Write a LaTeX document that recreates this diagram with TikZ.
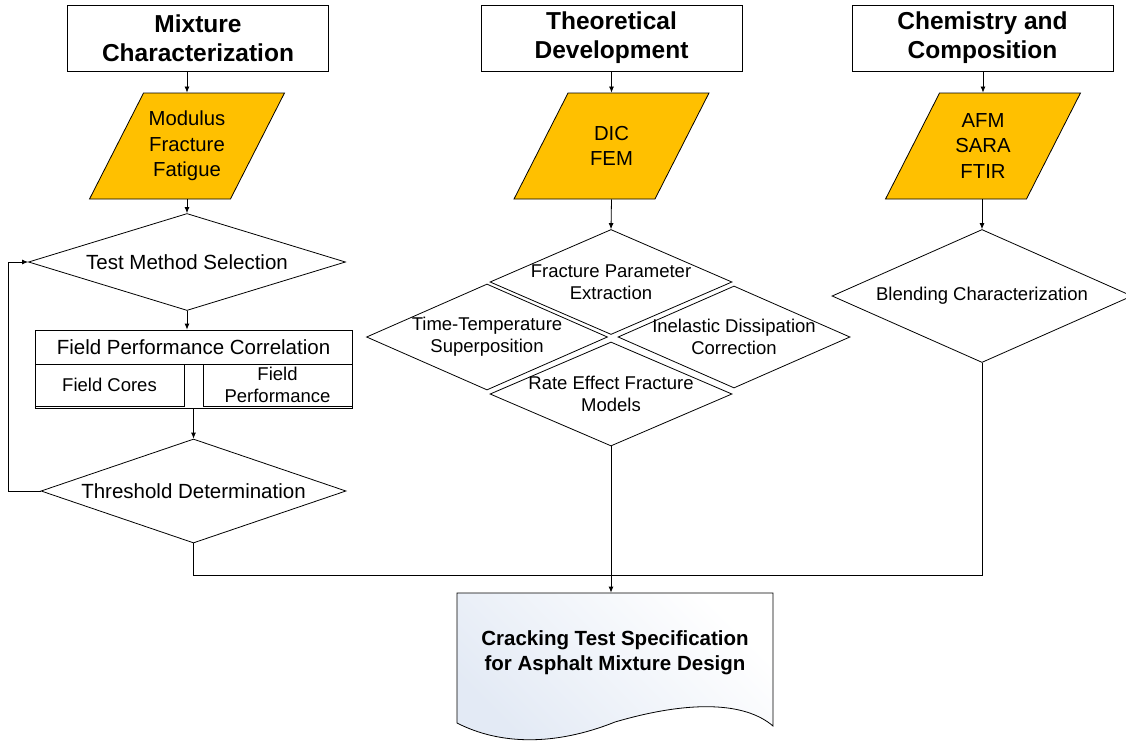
\documentclass[tikz,border=0pt]{standalone}
\usepackage{fontspec}
\setmainfont{Liberation Sans}
\usepackage{tikz}
\usetikzlibrary{shapes.geometric,arrows.meta}
\definecolor{iogold}{HTML}{FFC000}
\definecolor{docblue}{HTML}{E3EAF5}

\begin{document}
\begin{tikzpicture}[
  x=1pt, y=-1pt,
  line width=0.8pt,
  body/.style={font=\fontsize{18.5}{22}\selectfont, align=center},
  big body/.style={font=\fontsize{20.5}{25}\selectfont, align=center},
  head/.style={draw, minimum width=261pt, minimum height=66pt, align=center,
    font=\bfseries\fontsize{24.5}{29}\selectfont},
  data/.style={trapezium, trapezium left angle=63, trapezium right angle=117,
    draw, fill=iogold, inner xsep=0.82pt, inner ysep=1pt, minimum height=106pt,
    label={[align=center, font=\fontsize{20.3}{25.5}\selectfont]center:{#1}}},
  decision/.style 2 args={diamond, draw, inner sep=0pt,
    minimum width=#1pt, minimum height=#2pt},
  cell/.style={draw, body, inner sep=0pt},
  arrow/.style={-{Latex[length=6pt,width=5pt]}}
]
\useasboundingbox (0,0) rectangle (1126,744);

\node[head] (mix) at (198,38) {Mixture\\Characterization};
\node[head] (theo) at (611.5,38) {Theoretical\\Development};
\node[head] (chem) at (982.5,38) {Chemistry and\\Composition};

\node[data={Modulus\\Fracture\\Fatigue}] (mixin) at (187,146) {};
\node[data={DIC\\FEM}] (theoin) at (611.5,146) {};
\node[data={AFM\\SARA\\FTIR}] (chemin) at (983,146) {};

\node[decision={317}{97}, label={[big body]center:Test Method Selection}] (tms) at (187,262) {};
\node[draw, big body, minimum width=317pt, minimum height=34pt] (fpc) at (193.5,347) {Field Performance Correlation};
\node[draw, minimum width=317pt, minimum height=44pt] (fpcbox) at (193.5,386) {};
\node[cell, minimum width=149pt, minimum height=42pt] (cores) at (109.5,385) {Field Cores};
\node[cell, minimum width=149pt, minimum height=42pt] (perf) at (277.5,385) {Field\\Performance};
\node[decision={305}{104}, label={[big body]center:Threshold Determination}] (thr) at (193.5,491) {};

\node[decision={242}{105}, label={[body]center:{Fracture Parameter\\Extraction}}] (fpe) at (611,282) {};
\node[decision={241}{106}, label={[body]center:{Time-Temperature\\Superposition}}] (tts) at (487,337) {};
\node[decision={232}{102}, label={[body]center:{Inelastic Dissipation\\Correction}}] (idc) at (734,337) {};
\node[decision={242}{104}, label={[body]center:{Rate Effect Fracture\\Models}}] (ref) at (611,394) {};

\node[decision={300}{133}, label={[body]center:Blending Characterization}] (blend) at (982,296) {};

\shade[draw, shading=axis, top color=white, bottom color=docblue, shading angle=-45]
  (457,593) -- (773,593) -- (773,726)
  .. controls (745,702) and (690,700) .. (615,722)
  .. controls (555,746) and (500,745) .. (457,723) -- cycle;
\node[minimum width=316pt, minimum height=130pt, inner sep=0pt,
  label={[yshift=5.5pt, align=center, font=\bfseries\fontsize{20.5}{25}\selectfont]center:{Cracking Test Specification\\for Asphalt Mixture Design}}] (spec) at (615,658) {};

\draw[arrow] (mixin.north |- mix.south) -- (mixin.north);
\draw[arrow] (theo.south) -- (theoin.north);
\draw[arrow] (chemin.north |- chem.south) -- (chemin.north);
\draw[arrow] (mixin.south) -- (tms.north);
\draw[arrow] (theoin.south) -- (fpe.north);
\draw[arrow] (blend.north |- chemin.south) -- (blend.north);
\draw[arrow] (tms.south) -- (tms.south |- fpc.north);
\draw[arrow] (fpcbox.south) -- (thr.north);
\draw[arrow] (thr.west) -- ++(-32,0) |- (tms.west);
\draw[arrow] (ref.south) -- (ref.south |- spec.north);
\coordinate (merge) at (611,575);
\draw (thr.south) |- (merge);
\draw (blend.south) |- (merge);
\end{tikzpicture}
\end{document}
